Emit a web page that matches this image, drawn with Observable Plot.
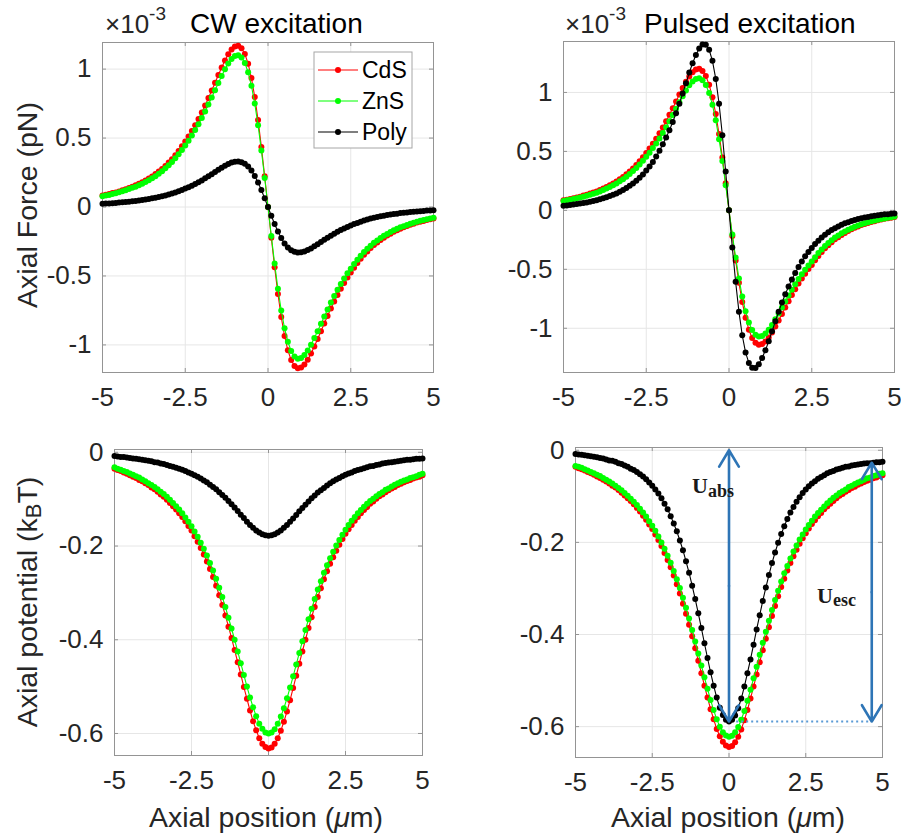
<!DOCTYPE html>
<html>
<head>
<meta charset="utf-8">
<script src="https://cdn.jsdelivr.net/npm/d3@7"></script>
<script src="https://cdn.jsdelivr.net/npm/@observablehq/plot@0.6"></script>
<style>
  body { margin: 0; background: #fff; }
  #fig { position: relative; width: 901px; height: 839px; overflow: hidden; }
  .panel { position: absolute; }
  .panel svg { display: block; }
  #overlay { position: absolute; left: 0; top: 0; pointer-events: none; }
</style>
</head>
<body>
<div id="fig">
  <div class="panel" id="p-cw-force" style="left:0;top:0;width:450px;height:420px"></div>
  <div class="panel" id="p-pulsed-force" style="left:450px;top:0;width:451px;height:420px"></div>
  <div class="panel" id="p-cw-pot" style="left:0;top:420px;width:450px;height:419px"></div>
  <div class="panel" id="p-pulsed-pot" style="left:450px;top:420px;width:451px;height:419px"></div>

  <svg id="overlay" width="901" height="839">
    <g font-family="'Liberation Sans', Arial, sans-serif" fill="#262626">
      <!-- panel headers with the shared 10^-3 multiplier -->
      <text x="105" y="33" font-size="26">×10<tspan dy="-13" font-size="19">-3</tspan></text>
      <text x="190" y="33" font-size="28" fill="#000">CW excitation</text>
      <text x="565" y="33" font-size="26">×10<tspan dy="-13" font-size="19">-3</tspan></text>
      <text x="644" y="33" font-size="28" fill="#000">Pulsed excitation</text>

      <!-- axis titles -->
      <text transform="translate(27,205) rotate(-90)" text-anchor="middle" dominant-baseline="central" font-size="28.5">Axial Force (pN)</text>
      <text transform="translate(27,602) rotate(-90)" text-anchor="middle" dominant-baseline="central" font-size="28.5">Axial potential (k<tspan dy="6" font-size="22">B</tspan><tspan dy="-6">T)</tspan></text>
      <text x="266" y="827" text-anchor="middle" font-size="28.5">Axial position (<tspan font-style="italic">μ</tspan>m)</text>
      <text x="728" y="827" text-anchor="middle" font-size="28.5">Axial position (<tspan font-style="italic">μ</tspan>m)</text>

      <!-- legend of the CW force panel -->
      <rect x="314" y="52" width="98" height="96" fill="#fff" stroke="#a6a6a6" stroke-width="1"/>
      <line x1="318" x2="358" y1="70" y2="70" stroke="#ff0000" stroke-width="1.2"/>
      <circle cx="338" cy="70" r="3" fill="#ff0000"/>
      <text x="362" y="78" font-size="23" fill="#000">CdS</text>
      <line x1="318" x2="358" y1="101" y2="101" stroke="#00ff00" stroke-width="1.2"/>
      <circle cx="338" cy="101" r="3" fill="#00ff00"/>
      <text x="362" y="109" font-size="23" fill="#000">ZnS</text>
      <line x1="318" x2="358" y1="132" y2="132" stroke="#000000" stroke-width="1.2"/>
      <circle cx="338" cy="132" r="3" fill="#000000"/>
      <text x="362" y="140" font-size="23" fill="#000">Poly</text>
    </g>
    <!-- barrier labels in the pulsed potential panel -->
    <g font-family="'Liberation Serif', 'DejaVu Serif', serif" font-weight="bold" fill="#1a1a1a">
      <text x="692" y="493" font-size="22">U<tspan dy="4" font-size="18">abs</tspan></text>
      <text x="817" y="603" font-size="22">U<tspan dy="3" font-size="18">esc</tspan></text>
    </g>
  </svg>
</div>

<script>
// Axial position of each sample (µm)
const axialPos = [
  -5, -4.9, -4.8, -4.7, -4.6, -4.5, -4.4, -4.3, -4.2, -4.1,
  -4, -3.9, -3.8, -3.7, -3.6, -3.5, -3.4, -3.3, -3.2, -3.1,
  -3, -2.9, -2.8, -2.7, -2.6, -2.5, -2.4, -2.3, -2.2, -2.1,
  -2, -1.9, -1.8, -1.7, -1.6, -1.5, -1.4, -1.3, -1.2, -1.1,
  -1, -0.9, -0.8, -0.7, -0.6, -0.5, -0.4, -0.3, -0.2, -0.1,
  0, 0.1, 0.2, 0.3, 0.4, 0.5, 0.6, 0.7, 0.8, 0.9,
  1, 1.1, 1.2, 1.3, 1.4, 1.5, 1.6, 1.7, 1.8, 1.9,
  2, 2.1, 2.2, 2.3, 2.4, 2.5, 2.6, 2.7, 2.8, 2.9,
  3, 3.1, 3.2, 3.3, 3.4, 3.5, 3.6, 3.7, 3.8, 3.9,
  4, 4.1, 4.2, 4.3, 4.4, 4.5, 4.6, 4.7, 4.8, 4.9,
  5
];

// Axial force, CW excitation (×10^-3 pN)
const cwForceCdS = [
  0.083, 0.089, 0.094, 0.101, 0.106, 0.113, 0.122, 0.129, 0.138, 0.147,
  0.157, 0.168, 0.180, 0.193, 0.207, 0.222, 0.239, 0.257, 0.276, 0.298,
  0.322, 0.347, 0.376, 0.406, 0.440, 0.475, 0.511, 0.551, 0.593, 0.638,
  0.686, 0.736, 0.790, 0.845, 0.901, 0.957, 1.011, 1.062, 1.107, 1.142,
  1.164, 1.170, 1.152, 1.110, 1.039, 0.935, 0.798, 0.631, 0.436, 0.223,
  0, -0.223, -0.436, -0.631, -0.798, -0.935, -1.039, -1.110, -1.152, -1.170,
  -1.164, -1.142, -1.107, -1.062, -1.011, -0.957, -0.901, -0.845, -0.790, -0.736,
  -0.686, -0.638, -0.593, -0.551, -0.511, -0.475, -0.440, -0.406, -0.376, -0.347,
  -0.322, -0.298, -0.276, -0.257, -0.239, -0.222, -0.207, -0.193, -0.180, -0.168,
  -0.157, -0.147, -0.138, -0.129, -0.122, -0.113, -0.106, -0.101, -0.094, -0.089,
  -0.083
];
const cwForceZnS = [
  0.078, 0.084, 0.088, 0.095, 0.100, 0.107, 0.114, 0.121, 0.130, 0.139,
  0.147, 0.158, 0.169, 0.182, 0.195, 0.209, 0.224, 0.242, 0.260, 0.281,
  0.303, 0.327, 0.353, 0.382, 0.414, 0.447, 0.481, 0.518, 0.558, 0.600,
  0.645, 0.692, 0.743, 0.794, 0.847, 0.900, 0.950, 0.999, 1.041, 1.074,
  1.095, 1.100, 1.084, 1.044, 0.977, 0.879, 0.750, 0.593, 0.410, 0.210,
  0, -0.210, -0.410, -0.593, -0.750, -0.879, -0.977, -1.044, -1.084, -1.100,
  -1.095, -1.074, -1.041, -0.999, -0.950, -0.900, -0.847, -0.794, -0.743, -0.692,
  -0.645, -0.600, -0.558, -0.518, -0.481, -0.447, -0.414, -0.382, -0.353, -0.327,
  -0.303, -0.281, -0.260, -0.242, -0.224, -0.209, -0.195, -0.182, -0.169, -0.158,
  -0.147, -0.139, -0.130, -0.121, -0.114, -0.107, -0.100, -0.095, -0.088, -0.084,
  -0.078
];
const cwForcePoly = [
  0.023, 0.025, 0.026, 0.028, 0.030, 0.032, 0.034, 0.036, 0.039, 0.042,
  0.044, 0.048, 0.051, 0.054, 0.058, 0.063, 0.067, 0.073, 0.078, 0.084,
  0.091, 0.098, 0.106, 0.115, 0.124, 0.134, 0.144, 0.155, 0.167, 0.180,
  0.193, 0.208, 0.223, 0.238, 0.254, 0.270, 0.285, 0.300, 0.312, 0.322,
  0.328, 0.330, 0.325, 0.313, 0.293, 0.264, 0.225, 0.178, 0.123, 0.063,
  0, -0.063, -0.123, -0.178, -0.225, -0.264, -0.293, -0.313, -0.325, -0.330,
  -0.328, -0.322, -0.312, -0.300, -0.285, -0.270, -0.254, -0.238, -0.223, -0.208,
  -0.193, -0.180, -0.167, -0.155, -0.144, -0.134, -0.124, -0.115, -0.106, -0.098,
  -0.091, -0.084, -0.078, -0.073, -0.067, -0.063, -0.058, -0.054, -0.051, -0.048,
  -0.044, -0.042, -0.039, -0.036, -0.034, -0.032, -0.030, -0.028, -0.026, -0.025,
  -0.023
];

// Axial force, pulsed excitation (×10^-3 pN)
const pulsedForceCdS = [
  0.085, 0.091, 0.096, 0.103, 0.109, 0.116, 0.125, 0.132, 0.142, 0.151,
  0.161, 0.173, 0.185, 0.198, 0.212, 0.228, 0.245, 0.264, 0.283, 0.306,
  0.330, 0.356, 0.385, 0.416, 0.451, 0.487, 0.524, 0.565, 0.608, 0.654,
  0.703, 0.755, 0.810, 0.866, 0.924, 0.982, 1.037, 1.090, 1.135, 1.171,
  1.194, 1.200, 1.182, 1.139, 1.066, 0.959, 0.818, 0.647, 0.448, 0.229,
  0, -0.218, -0.425, -0.614, -0.777, -0.911, -1.012, -1.082, -1.123, -1.140,
  -1.134, -1.113, -1.078, -1.035, -0.985, -0.933, -0.878, -0.823, -0.770, -0.717,
  -0.668, -0.621, -0.578, -0.537, -0.498, -0.463, -0.424, -0.386, -0.353, -0.322,
  -0.295, -0.270, -0.246, -0.227, -0.208, -0.191, -0.175, -0.161, -0.148, -0.137,
  -0.125, -0.116, -0.107, -0.098, -0.092, -0.084, -0.078, -0.072, -0.066, -0.062,
  -0.057
];
const pulsedForceZnS = [
  0.080, 0.085, 0.090, 0.096, 0.102, 0.109, 0.116, 0.123, 0.132, 0.141,
  0.150, 0.161, 0.172, 0.185, 0.198, 0.213, 0.228, 0.246, 0.264, 0.286,
  0.308, 0.333, 0.360, 0.389, 0.421, 0.455, 0.489, 0.528, 0.568, 0.610,
  0.656, 0.704, 0.756, 0.809, 0.862, 0.916, 0.968, 1.017, 1.060, 1.093,
  1.114, 1.120, 1.103, 1.063, 0.995, 0.895, 0.764, 0.604, 0.418, 0.214,
  0, -0.204, -0.399, -0.577, -0.730, -0.855, -0.950, -1.015, -1.054, -1.070,
  -1.065, -1.044, -1.012, -0.972, -0.924, -0.875, -0.824, -0.773, -0.722, -0.673,
  -0.627, -0.583, -0.542, -0.504, -0.468, -0.434, -0.397, -0.362, -0.331, -0.303,
  -0.277, -0.253, -0.231, -0.213, -0.195, -0.179, -0.164, -0.151, -0.139, -0.128,
  -0.118, -0.109, -0.101, -0.092, -0.086, -0.079, -0.073, -0.068, -0.062, -0.058,
  -0.053
];
const pulsedForcePoly = [
  0.039, 0.042, 0.046, 0.049, 0.054, 0.058, 0.063, 0.067, 0.074, 0.080,
  0.086, 0.094, 0.102, 0.112, 0.121, 0.132, 0.144, 0.158, 0.173, 0.189,
  0.208, 0.228, 0.252, 0.277, 0.305, 0.337, 0.373, 0.411, 0.456, 0.505,
  0.560, 0.617, 0.680, 0.749, 0.823, 0.905, 0.990, 1.079, 1.169, 1.248,
  1.318, 1.373, 1.406, 1.404, 1.362, 1.268, 1.115, 0.904, 0.637, 0.330,
  0, -0.314, -0.605, -0.859, -1.059, -1.205, -1.294, -1.334, -1.336, -1.304,
  -1.252, -1.186, -1.111, -1.025, -0.941, -0.860, -0.782, -0.712, -0.646, -0.586,
  -0.532, -0.480, -0.433, -0.390, -0.354, -0.320, -0.286, -0.257, -0.231, -0.206,
  -0.186, -0.167, -0.151, -0.136, -0.122, -0.110, -0.100, -0.091, -0.082, -0.074,
  -0.067, -0.061, -0.056, -0.050, -0.046, -0.042, -0.038, -0.034, -0.032, -0.028,
  -0.026
];

// Axial potential, CW excitation (kBT)
const cwPotCdS = [
  -0.035, -0.038, -0.040, -0.043, -0.046, -0.049, -0.052, -0.055, -0.059, -0.062,
  -0.066, -0.070, -0.075, -0.079, -0.084, -0.090, -0.095, -0.101, -0.108, -0.115,
  -0.122, -0.130, -0.138, -0.147, -0.157, -0.167, -0.179, -0.191, -0.204, -0.218,
  -0.233, -0.249, -0.266, -0.285, -0.305, -0.326, -0.348, -0.372, -0.396, -0.422,
  -0.448, -0.474, -0.501, -0.526, -0.551, -0.574, -0.593, -0.610, -0.622, -0.629,
  -0.632, -0.630, -0.622, -0.610, -0.594, -0.575, -0.553, -0.529, -0.503, -0.477,
  -0.451, -0.425, -0.400, -0.375, -0.352, -0.330, -0.309, -0.290, -0.271, -0.254,
  -0.238, -0.224, -0.210, -0.197, -0.185, -0.174, -0.164, -0.155, -0.146, -0.138,
  -0.130, -0.123, -0.117, -0.110, -0.105, -0.099, -0.094, -0.090, -0.085, -0.081,
  -0.077, -0.074, -0.070, -0.067, -0.064, -0.061, -0.059, -0.056, -0.054, -0.052,
  -0.049
];
const cwPotZnS = [
  -0.032, -0.035, -0.037, -0.040, -0.042, -0.045, -0.048, -0.051, -0.054, -0.058,
  -0.062, -0.066, -0.070, -0.074, -0.079, -0.084, -0.089, -0.095, -0.101, -0.108,
  -0.115, -0.122, -0.130, -0.139, -0.148, -0.158, -0.169, -0.180, -0.193, -0.206,
  -0.220, -0.236, -0.252, -0.270, -0.289, -0.309, -0.330, -0.353, -0.376, -0.400,
  -0.425, -0.450, -0.475, -0.500, -0.523, -0.544, -0.563, -0.579, -0.590, -0.598,
  -0.600, -0.598, -0.591, -0.579, -0.564, -0.546, -0.525, -0.502, -0.478, -0.453,
  -0.428, -0.403, -0.379, -0.356, -0.334, -0.313, -0.293, -0.275, -0.257, -0.241,
  -0.226, -0.212, -0.199, -0.187, -0.176, -0.165, -0.155, -0.146, -0.138, -0.130,
  -0.123, -0.116, -0.110, -0.104, -0.099, -0.094, -0.089, -0.085, -0.080, -0.077,
  -0.073, -0.069, -0.066, -0.063, -0.060, -0.058, -0.055, -0.053, -0.051, -0.048,
  -0.046
];
const cwPotPoly = [
  -0.008, -0.009, -0.010, -0.010, -0.011, -0.012, -0.013, -0.014, -0.015, -0.016,
  -0.017, -0.018, -0.019, -0.021, -0.022, -0.024, -0.025, -0.027, -0.029, -0.031,
  -0.033, -0.035, -0.037, -0.040, -0.043, -0.046, -0.049, -0.052, -0.056, -0.060,
  -0.064, -0.069, -0.074, -0.079, -0.085, -0.091, -0.097, -0.104, -0.111, -0.118,
  -0.125, -0.133, -0.140, -0.148, -0.155, -0.161, -0.167, -0.171, -0.175, -0.177,
  -0.178, -0.177, -0.175, -0.171, -0.167, -0.161, -0.155, -0.148, -0.141, -0.134,
  -0.126, -0.119, -0.112, -0.105, -0.098, -0.092, -0.086, -0.081, -0.076, -0.071,
  -0.066, -0.062, -0.058, -0.055, -0.051, -0.048, -0.045, -0.043, -0.040, -0.038,
  -0.036, -0.034, -0.032, -0.030, -0.029, -0.027, -0.026, -0.024, -0.023, -0.022,
  -0.021, -0.020, -0.019, -0.018, -0.017, -0.016, -0.016, -0.015, -0.014, -0.014,
  -0.013
];

// Axial potential, pulsed excitation (kBT)
const pulsedPotCdS = [
  -0.036, -0.039, -0.041, -0.044, -0.047, -0.050, -0.053, -0.057, -0.060, -0.064,
  -0.068, -0.072, -0.077, -0.081, -0.086, -0.092, -0.098, -0.104, -0.110, -0.117,
  -0.125, -0.133, -0.142, -0.151, -0.161, -0.171, -0.183, -0.195, -0.208, -0.223,
  -0.238, -0.254, -0.272, -0.291, -0.311, -0.333, -0.355, -0.379, -0.404, -0.430,
  -0.457, -0.484, -0.511, -0.537, -0.562, -0.584, -0.605, -0.621, -0.633, -0.641,
  -0.644, -0.642, -0.634, -0.622, -0.606, -0.586, -0.564, -0.539, -0.513, -0.487,
  -0.460, -0.434, -0.409, -0.384, -0.360, -0.338, -0.317, -0.297, -0.279, -0.261,
  -0.245, -0.230, -0.216, -0.203, -0.191, -0.180, -0.170, -0.160, -0.152, -0.143,
  -0.136, -0.128, -0.122, -0.116, -0.110, -0.104, -0.099, -0.095, -0.090, -0.086,
  -0.082, -0.079, -0.075, -0.072, -0.069, -0.066, -0.064, -0.061, -0.059, -0.056,
  -0.054
];
const pulsedPotZnS = [
  -0.034, -0.036, -0.038, -0.041, -0.044, -0.047, -0.050, -0.053, -0.056, -0.060,
  -0.064, -0.068, -0.072, -0.077, -0.082, -0.087, -0.093, -0.099, -0.105, -0.112,
  -0.119, -0.127, -0.135, -0.144, -0.154, -0.164, -0.175, -0.187, -0.200, -0.214,
  -0.229, -0.244, -0.262, -0.280, -0.299, -0.320, -0.342, -0.365, -0.390, -0.415,
  -0.441, -0.467, -0.493, -0.518, -0.542, -0.564, -0.584, -0.600, -0.612, -0.619,
  -0.622, -0.620, -0.612, -0.601, -0.585, -0.566, -0.544, -0.520, -0.495, -0.470,
  -0.444, -0.418, -0.394, -0.370, -0.347, -0.325, -0.305, -0.285, -0.267, -0.251,
  -0.235, -0.220, -0.207, -0.194, -0.183, -0.172, -0.162, -0.153, -0.144, -0.136,
  -0.129, -0.122, -0.115, -0.109, -0.103, -0.098, -0.093, -0.089, -0.085, -0.080,
  -0.077, -0.073, -0.070, -0.067, -0.064, -0.061, -0.059, -0.056, -0.054, -0.051,
  -0.050
];
const pulsedPotPoly = [
  -0.008, -0.009, -0.010, -0.011, -0.012, -0.013, -0.014, -0.015, -0.017, -0.018,
  -0.020, -0.022, -0.023, -0.025, -0.028, -0.030, -0.033, -0.036, -0.040, -0.043,
  -0.047, -0.052, -0.057, -0.063, -0.070, -0.077, -0.085, -0.094, -0.104, -0.116,
  -0.128, -0.143, -0.159, -0.176, -0.196, -0.217, -0.241, -0.266, -0.294, -0.323,
  -0.354, -0.386, -0.419, -0.451, -0.482, -0.511, -0.537, -0.559, -0.575, -0.585,
  -0.589, -0.585, -0.576, -0.560, -0.539, -0.513, -0.484, -0.454, -0.422, -0.389,
  -0.358, -0.327, -0.298, -0.271, -0.245, -0.222, -0.201, -0.182, -0.165, -0.149,
  -0.135, -0.123, -0.112, -0.102, -0.093, -0.085, -0.078, -0.072, -0.067, -0.062,
  -0.058, -0.054, -0.050, -0.047, -0.045, -0.042, -0.040, -0.038, -0.036, -0.035,
  -0.033, -0.032, -0.031, -0.030, -0.029, -0.028, -0.028, -0.027, -0.026, -0.026,
  -0.025
];

// Tick values
const xTicks = [-5, -2.5, 0, 2.5, 5];
const forceTicks = [-1, -0.5, 0, 0.5, 1];
const potentialTicks = [-0.6, -0.4, -0.2, 0];

// Barrier annotation positions (µm) in the pulsed potential panel
const uAbsPos = 0;
const uEscPos = 4.65;
const escRefPos = 4.7;
const wellLineStart = 0.25;
const wellLineEnd = 4.6;

const materialColors = { CdS: "#ff0000", ZnS: "#00ff00", Poly: "#000000" };
const frameColor = "#949494";
const gridColor = "#e6e6e6";
const arrowBlue = "#2e75b6";

function seriesMarks(values, color) {
  const rows = axialPos.map((x, i) => ({ x, y: values[i] }));
  return [
    Plot.line(rows, { x: "x", y: "y", stroke: color, strokeWidth: 1.1 }),
    Plot.dot(rows, { x: "x", y: "y", fill: color, r: 3 })
  ];
}

function panel(target, cfg) {
  const innerW = cfg.width - cfg.marginLeft - cfg.marginRight;
  const innerH = cfg.height - cfg.marginTop - cfg.marginBottom;
  const fmt = (d) => String(d);
  const marks = [
    Plot.gridX(xTicks, { stroke: gridColor, strokeOpacity: 1 }),
    Plot.gridY(cfg.yTicks, { stroke: gridColor, strokeOpacity: 1 }),
    Plot.tickX(xTicks, { x: (d) => d, stroke: frameColor, insetBottom: innerH - 4 }),
    Plot.tickX(xTicks, { x: (d) => d, stroke: frameColor, insetTop: innerH - 4 }),
    Plot.tickY(cfg.yTicks, { y: (d) => d, stroke: frameColor, insetRight: innerW - 4 }),
    Plot.tickY(cfg.yTicks, { y: (d) => d, stroke: frameColor, insetLeft: innerW - 4 }),
    Plot.frame({ stroke: frameColor }),
    Plot.axisX(xTicks, { tickSize: 0, tickPadding: 15, tickFormat: fmt, fontSize: 26, label: null }),
    Plot.axisY(cfg.yTicks, { tickSize: 0, tickPadding: 11, tickFormat: fmt, fontSize: 26, label: null }),
    ...seriesMarks(cfg.cds, materialColors.CdS),
    ...seriesMarks(cfg.zns, materialColors.ZnS),
    ...seriesMarks(cfg.poly, materialColors.Poly),
    ...(cfg.extra || [])
  ];
  const chart = Plot.plot({
    width: cfg.width,
    height: cfg.height,
    marginLeft: cfg.marginLeft,
    marginRight: cfg.marginRight,
    marginTop: cfg.marginTop,
    marginBottom: cfg.marginBottom,
    x: { domain: [-5, 5] },
    y: { domain: cfg.yDomain },
    style: {
      fontFamily: "'Liberation Sans', Arial, sans-serif",
      color: "#262626",
      background: "transparent",
      overflow: "visible"
    },
    marks
  });
  document.getElementById(target).append(chart);
}

panel("p-cw-force", {
  width: 450, height: 420, marginLeft: 102, marginRight: 17, marginTop: 42, marginBottom: 48,
  yDomain: [-1.2, 1.193], yTicks: forceTicks,
  cds: cwForceCdS, zns: cwForceZnS, poly: cwForcePoly
});

panel("p-pulsed-force", {
  width: 451, height: 420, marginLeft: 113, marginRight: 7, marginTop: 41, marginBottom: 48,
  yDomain: [-1.375, 1.432], yTicks: forceTicks,
  cds: pulsedForceCdS, zns: pulsedForceZnS, poly: pulsedForcePoly
});

panel("p-cw-pot", {
  width: 450, height: 419, marginLeft: 114, marginRight: 28, marginTop: 29, marginBottom: 84,
  yDomain: [-0.647, 0.006], yTicks: potentialTicks,
  cds: cwPotCdS, zns: cwPotZnS, poly: cwPotPoly
});

// Trap depth (Uabs) and escape barrier (Uesc) for the polystyrene particle
const wellBottom = d3.min(pulsedPotPoly);
const escTop = pulsedPotPoly[axialPos.indexOf(escRefPos)];
const arrowOpts = {
  x1: "x1", y1: "y1", x2: "x2", y2: "y2",
  stroke: arrowBlue, strokeWidth: 2.6, headLength: 11, headAngle: 62
};
const uAbsMid = wellBottom / 2;
const uEscMid = (wellBottom + escTop) / 2;

panel("p-pulsed-pot", {
  width: 451, height: 419, marginLeft: 125, marginRight: 19, marginTop: 27, marginBottom: 82,
  yDomain: [-0.667, 0.006], yTicks: potentialTicks,
  cds: pulsedPotCdS, zns: pulsedPotZnS, poly: pulsedPotPoly,
  extra: [
    Plot.ruleY([wellBottom], {
      x1: wellLineStart, x2: wellLineEnd, stroke: "#5b9bd5", strokeWidth: 2, strokeDasharray: "2,3"
    }),
    Plot.arrow([
      { x1: uAbsPos, y1: uAbsMid, x2: uAbsPos, y2: 0 },
      { x1: uAbsPos, y1: uAbsMid, x2: uAbsPos, y2: wellBottom },
      { x1: uEscPos, y1: uEscMid, x2: uEscPos, y2: escTop },
      { x1: uEscPos, y1: uEscMid, x2: uEscPos, y2: wellBottom }
    ], arrowOpts)
  ]
});
</script>
</body>
</html>
